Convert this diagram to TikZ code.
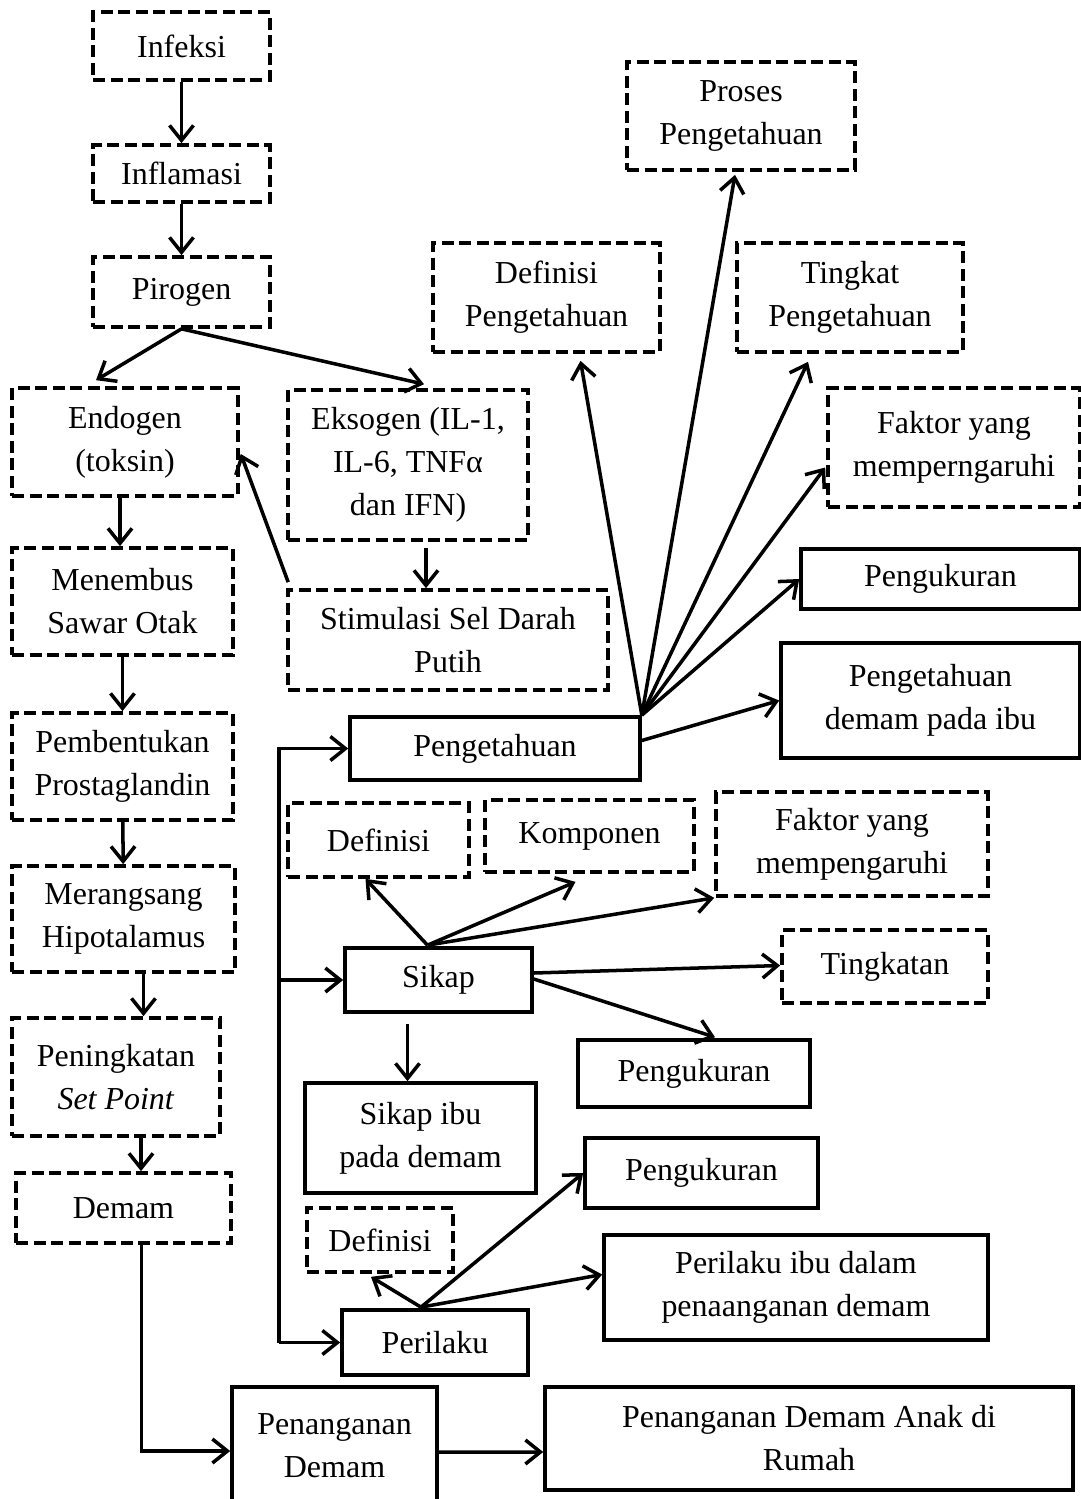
\documentclass[tikz,border=0pt]{standalone}
\usepackage{fontspec}
\setmainfont{Liberation Serif}
\usetikzlibrary{arrows.meta,calc}

\begin{document}
\begin{tikzpicture}[
    x=0.02cm, y=-0.02cm,
    box/.style={draw, line width=2.1pt, inner sep=0pt, align=center,
      font=\fontsize{18.2}{24.5}\selectfont},
    dbox/.style={box, dash pattern=on 2.4mm off 1.1mm},
    sbox/.style={box},
    sz/.style 2 args={minimum width=#1*0.2mm, minimum height=#2*0.2mm},
    arr/.style={line width=2pt, -{Straight Barb[length=3mm,width=4.8mm,line width=2pt]}},
  ]
    \useasboundingbox (0,0) rectangle (1081,1499);

    % alur demam (kiri)
    \node[dbox, sz={177}{68}] (infeksi) at (181.5,46) {Infeksi};
    \node[dbox, sz={177}{57}] (inflamasi) at (181.5,173.5) {Inflamasi};
    \node[dbox, sz={177}{70}] (pirogen) at (181.5,292) {Pirogen};
    \node[dbox, sz={226}{108}] (endogen) at (125,442) {Endogen\\(toksin)};
    \node[dbox, sz={240}{150}] (eksogen) at (408,465) {Eksogen (IL-1,\\IL-6, TNFα\\dan IFN)};
    \node[dbox, sz={221}{107}] (menembus) at (122.5,601.5) {Menembus\\Sawar Otak};
    \node[dbox, sz={320}{100}] (stimulasi) at (448,640) {Stimulasi Sel Darah\\Putih};
    \node[dbox, sz={221}{107}] (pembentukan) at (122.5,766.5) {Pembentukan\\Prostaglandin};
    \node[dbox, sz={223}{106}] (merangsang) at (123.5,919) {Merangsang\\Hipotalamus};
    \node[dbox, sz={208}{118}] (peningkatan) at (116,1077) {Peningkatan\\\textit{Set Point}};
    \node[dbox, sz={215}{70}] (demam) at (123.5,1208) {Demam};
    \node[sbox, sz={205}{118}] (penanganan) at (334.5,1446) {Penanganan\\Demam};
    \node[sbox, sz={528}{103}] (pdar) at (809,1438.5) {Penanganan Demam Anak di\\Rumah};

    % pengetahuan
    \node[sbox, sz={290}{63}] (peng) at (495,748.5) {Pengetahuan};
    \node[dbox, sz={228}{108}] (proses) at (741,116) {Proses\\Pengetahuan};
    \node[dbox, sz={227}{109}] (defp) at (546.5,297.5) {Definisi\\Pengetahuan};
    \node[dbox, sz={226}{109}] (tingkat) at (850,297.5) {Tingkat\\Pengetahuan};
    \node[dbox, sz={252}{119}] (faktorp) at (954,447.5) {Faktor yang\\memperngaruhi};
    \node[sbox, sz={279}{60}] (ukurp) at (940.5,579) {Pengukuran};
    \node[sbox, sz={299}{115}] (pdi) at (930.5,700.5) {Pengetahuan\\demam pada ibu};

    % sikap
    \node[sbox, sz={187}{64}] (sikap) at (438.5,980) {Sikap};
    \node[dbox, sz={181}{74}] (defs) at (378.5,840) {Definisi};
    \node[dbox, sz={209}{72}] (komp) at (589.5,836) {Komponen};
    \node[dbox, sz={272}{104}] (faktors) at (852,844) {Faktor yang\\mempengaruhi};
    \node[dbox, sz={206}{73}] (tingkatan) at (885,966.5) {Tingkatan};
    \node[sbox, sz={232}{67}] (ukurs) at (694,1073.5) {Pengukuran};
    \node[sbox, sz={231}{110}] (sikapibu) at (420.5,1138) {Sikap ibu\\pada demam};

    % perilaku
    \node[sbox, sz={186}{65}] (perilaku) at (435,1342.5) {Perilaku};
    \node[dbox, sz={146}{64}] (defl) at (380,1240) {Definisi};
    \node[sbox, sz={233}{70}] (ukurl) at (701.5,1173) {Pengukuran};
    \node[sbox, sz={384}{105}] (pib) at (796,1287.5) {Perilaku ibu dalam\\penaanganan demam};

    \coordinate (bus) at (279,0);

    \draw[arr] (infeksi) -- (inflamasi);
    \draw[arr] (inflamasi) -- (pirogen);
    \draw[arr] (pirogen.south) -- ($(endogen.north)+(-29,-6)$);
    \draw[arr] (pirogen.south) -- ($(eksogen.north)+(16,-4)$);
    \draw[arr] ($(endogen.south)+(-5,0)$) -- ($(menembus.north)+(-2.5,0)$);
    \draw[arr] ($(eksogen.south)+(18,6)$) -- ($(stimulasi.north)+(-22,0)$);
    \draw[arr] ($(stimulasi.north west)+(2,-6)$) -- ($(endogen.east)+(1,12)$);
    \draw[arr] (menembus) -- (pembentukan);
    \draw[arr] (pembentukan) -- (merangsang);
    \draw[arr] ($(merangsang.south)+(20,0)$) -- ($(peningkatan.north)+(27.5,0)$);
    \draw[arr] ($(peningkatan.south)+(25,0)$) -- ($(demam.north)+(17.5,0)$);
    \draw[arr] ($(demam.south)+(18,0)$) |- ($(penanganan.west)+(0,5)$);
    \draw[arr] ($(penanganan.east)+(0,6)$) -- ($(pdar.west)+(0,13.5)$);

    \draw[arr] (perilaku.west -| bus) |- (peng.west);
    \draw[arr] (sikap.west -| bus) -- (sikap.west);
    \draw[arr] (perilaku.west -| bus) -- (perilaku.west);

    \draw[arr] (peng.north east) -- ($(proses.south)+(-6,3)$);
    \draw[arr] (peng.north east) -- ($(defp.south)+(34,7)$);
    \draw[arr] (peng.north east) -- ($(tingkat.south)+(-42,8)$);
    \draw[arr] (peng.north east) -- ($(faktorp.west)+(-1,20)$);
    \draw[arr] (peng.north east) -- (ukurp.west);
    \draw[arr] ($(peng.east)+(0,-8)$) -- (pdi.west);

    \draw[arr] ($(sikap.north)+(-11,-1)$) -- ($(defs.south)+(-13,0)$);
    \draw[arr] ($(sikap.north)+(-11,-1)$) -- ($(komp.south)+(-14,8)$);
    \draw[arr] ($(sikap.north)+(-11,-1)$) -- (faktors.south west);
    \draw[arr] ($(sikap.east)+(0,-7)$) -- ($(tingkatan.west)+(0,-1)$);
    \draw[arr] ($(sikap.east)+(0,-1)$) -- ($(ukurs.north)+(21,-1)$);
    \draw[arr] ($(sikap.south)+(-31,10)$) -- ($(sikapibu.north)+(-13,0)$);

    \draw[arr] ($(perilaku.north)+(-14,-1)$) -- ($(defl.south)+(-9,3)$);
    \draw[arr] ($(perilaku.north)+(-14,-1)$) -- (ukurl.west);
    \draw[arr] ($(perilaku.north)+(-14,-1)$) -- ($(pib.west)+(0,-13)$);
\end{tikzpicture}
\end{document}
